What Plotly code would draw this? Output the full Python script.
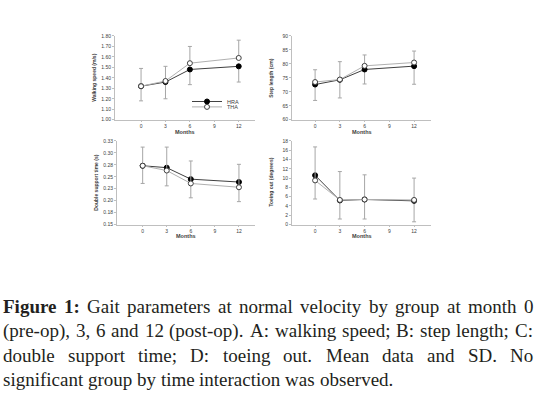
import plotly.graph_objects as go

W, H = 537, 396

months = [0, 3, 6, 12]
month_ticks = [0, 3, 6, 9, 12]

# A: walking speed (m/s)
speed_hra = [1.32, 1.36, 1.48, 1.51]
speed_tha = [1.32, 1.37, 1.54, 1.59]
speed_tha_sd = [0.17, 0.14, 0.16, 0.17]
speed_hra_sd = [0.14, 0.16, 0.145, 0.15]
speed_ticks = [1.0, 1.1, 1.2, 1.3, 1.4, 1.5, 1.6, 1.7, 1.8]
speed_ticktext = ["1.00", "1.10", "1.20", "1.30", "1.40", "1.50", "1.60", "1.70", "1.80"]

# B: step length (cm)
step_hra = [72.6, 74.3, 78.0, 79.2]
step_tha = [73.5, 74.4, 79.3, 80.5]
step_tha_sd = [4.4, 6.4, 3.9, 4.1]
step_hra_sd = [5.7, 6.5, 5.2, 6.5]
step_ticks = [60, 65, 70, 75, 80, 85, 90]
step_ticktext = ["60", "65", "70", "75", "80", "85", "90"]

# C: double support time (s)
dst_hra = [0.273, 0.269, 0.245, 0.239]
dst_tha = [0.273, 0.263, 0.236, 0.228]
dst_tha_sd = [0.039, 0.049, 0.047, 0.048]
dst_hra_sd = [0.037, 0.038, 0.039, 0.041]
dst_ticks = [0.15, 0.175, 0.2, 0.225, 0.25, 0.275, 0.3, 0.325]
dst_ticktext = ["0.15", "0.18", "0.20", "0.23", "0.25", "0.28", "0.30", "0.33"]

# D: toeing out (degrees)
toe_hra = [10.6, 5.2, 5.4, 5.1]
toe_tha = [9.5, 5.3, 5.4, 5.3]
toe_tha_sd = [7.2, 6.1, 5.3, 4.7]
toe_hra_sd = [5.1, 4.0, 4.2, 4.5]
toe_ticks = [0, 2, 4, 6, 8, 10, 12, 14, 16, 18]
toe_ticktext = ["0", "2", "4", "6", "8", "10", "12", "14", "16", "18"]

y_titles = ["Walking speed (m/s)", "Step length (cm)", "Double support time (s)", "Toeing out (degrees)"]
x_title = "Months"

caption_lines = [
    [("Figure", True), ("1:", True), ("Gait", False), ("parameters", False), ("at", False), ("normal", False),
     ("velocity", False), ("by", False), ("group", False), ("at", False), ("month", False), ("0", False)],
    [(w, False) for w in "(pre-op), 3, 6 and 12 (post-op). A: walking speed; B: step length; C:".split(" ")],
    [(w, False) for w in "double support time; D: toeing out. Mean data and SD. No".split(" ")],
    [(w, False) for w in "significant group by time interaction was observed.".split(" ")],
]

# approximate Times (Liberation Serif) advance widths, per 1000 em
_reg = dict(zip("abcdefghijklmnopqrstuvwxyz",
                [444, 500, 444, 500, 444, 333, 500, 500, 278, 278, 500, 278, 778, 500, 500, 500, 500, 333, 389,
                 278, 500, 500, 722, 500, 500, 444]))
_reg.update({"A": 722, "B": 667, "C": 667, "D": 722, "F": 556, "G": 722, "M": 889, "N": 722, "S": 556,
             "(": 333, ")": 333, ",": 250, ".": 250, ":": 278, ";": 278, "-": 333})
for d in "0123456789":
    _reg[d] = 500
_bold = dict(_reg)
_bold.update({"F": 611, "u": 556, "r": 444, "1": 500, ":": 333, "g": 500, "i": 278, "e": 444})


def text_width(word, size, bold=False):
    tab = _bold if bold else _reg
    return sum(tab.get(c, 500) for c in word) * size / 1000.0


def px_x(v):
    return v / W


def px_y(v):
    return 1 - v / H


panels = [
    dict(box=(115, 255, 33.5, 118.5), xr=[-3.2, 14.0], yr=[1.0, 1.8], tv=speed_ticks, tt=speed_ticktext,
         hra=speed_hra, tha=speed_tha, hsd=speed_hra_sd, tsd=speed_tha_sd),
    dict(box=(292, 431, 33.5, 118.5), xr=[-2.8, 14.05], yr=[60, 90], tv=step_ticks, tt=step_ticktext,
         hra=step_hra, tha=step_tha, hsd=step_hra_sd, tsd=step_tha_sd),
    dict(box=(117, 255, 140, 225), xr=[-3.2, 14.0], yr=[0.15, 0.325], tv=dst_ticks, tt=dst_ticktext,
         hra=dst_hra, tha=dst_tha, hsd=dst_hra_sd, tsd=dst_tha_sd),
    dict(box=(292, 431, 140, 225), xr=[-2.8, 14.05], yr=[0, 18], tv=toe_ticks, tt=toe_ticktext,
         hra=toe_hra, tha=toe_tha, hsd=toe_hra_sd, tsd=toe_tha_sd),
]

fig = go.Figure()
sans = "Liberation Sans, Arial, sans-serif"
axis_font = dict(family=sans, size=5, color="#404040")
grey = "#bfbfbf"
err_col = "#a6a6a6"

annotations = []
for i, p in enumerate(panels):
    n = "" if i == 0 else str(i + 1)
    xa, ya = "x" + n, "y" + n
    l, r, t, b = p["box"]
    fig.add_trace(go.Scatter(
        x=months, y=p["hra"], xaxis=xa, yaxis=ya, name="HRA", showlegend=(i == 0), legend="legend",
        mode="lines+markers",
        line=dict(color="#404040", width=1),
        marker=dict(symbol="circle", size=5, color="#000000", line=dict(color="#000000", width=1)),
        error_y=dict(type="data", symmetric=False, array=[0] * 4, arrayminus=p["hsd"],
                     color=err_col, thickness=1, width=2),
    ))
    fig.add_trace(go.Scatter(
        x=months, y=p["tha"], xaxis=xa, yaxis=ya, name="THA", showlegend=(i == 0), legend="legend2",
        mode="lines+markers",
        line=dict(color="#b0b0b0", width=1),
        marker=dict(symbol="circle", size=5, color="#ffffff", line=dict(color="#404040", width=1)),
        error_y=dict(type="data", symmetric=False, array=p["tsd"], arrayminus=[0] * 4,
                     color=err_col, thickness=1, width=2),
    ))
    fig.layout["xaxis" + n] = dict(
        domain=[px_x(l), px_x(r)], range=p["xr"], anchor=ya, tickmode="array",
        tickvals=month_ticks, ticktext=[str(m) for m in month_ticks],
        showgrid=False, zeroline=False, showline=True, linecolor=grey, linewidth=1,
        ticks="outside", ticklen=1, tickcolor=grey, tickfont=axis_font, fixedrange=True,
    )
    fig.layout["yaxis" + n] = dict(
        domain=[px_y(b), px_y(t)], range=p["yr"], anchor=xa, tickmode="array",
        tickvals=p["tv"], ticktext=p["tt"],
        showgrid=False, zeroline=False, showline=True, linecolor=grey, linewidth=1,
        ticks="outside", ticklen=2, tickcolor=grey, tickfont=axis_font, fixedrange=True,
    )
    annotations.append(dict(
        text="<b>" + y_titles[i] + "</b>", textangle=-90, xref="paper", yref="paper",
        x=px_x(l - 21), y=px_y((t + b) / 2), showarrow=False, xanchor="center", yanchor="middle",
        font=dict(family=sans, size=5, color="#404040"),
    ))
    annotations.append(dict(
        text="<b>" + x_title + "</b>", xref="paper", yref="paper",
        x=px_x((l + r) / 2), y=px_y(b + 12), showarrow=False, xanchor="center", yanchor="middle",
        font=dict(family=sans, size=5.5, color="#404040"),
    ))

# caption, justified word by word (last line left-aligned)
cap_size = 19
cap_left, cap_right = 3, 533
cap_y = [308, 333, 358, 382]
serif = "Liberation Serif, Times New Roman, serif"
for li, (words, yy) in enumerate(zip(caption_lines, cap_y)):
    widths = [text_width(w, cap_size, bold) for w, bold in words]
    if li < len(caption_lines) - 1:
        gap = (cap_right - cap_left - sum(widths)) / (len(words) - 1)
    else:
        gap = cap_size * 0.25
    xpos = cap_left
    for (w, bold), wd in zip(words, widths):
        annotations.append(dict(
            text=("<b>%s</b>" % w) if bold else w, xref="paper", yref="paper",
            x=px_x(xpos), y=px_y(yy), showarrow=False, xanchor="left", yanchor="middle",
            font=dict(family=serif, size=cap_size, color="#231f20"),
            borderpad=0, borderwidth=0,
        ))
        xpos += wd + gap

leg_font = dict(family=sans, size=5.5, color="#404040")
fig.update_layout(
    width=W, height=H, margin=dict(l=0, r=0, t=0, b=0),
    paper_bgcolor="white", plot_bgcolor="white",
    annotations=annotations,
    legend=dict(x=px_x(187), y=px_y(100), xanchor="left", yanchor="middle",
                font=leg_font, bgcolor="rgba(0,0,0,0)", itemwidth=30),
    legend2=dict(x=px_x(187), y=px_y(105.5), xanchor="left", yanchor="middle",
                 font=leg_font, bgcolor="rgba(0,0,0,0)", itemwidth=30),
)

fig.write_html("out.html", config={"displayModeBar": False},
               post_script="document.body.style.margin='0';document.body.style.padding='0';")
